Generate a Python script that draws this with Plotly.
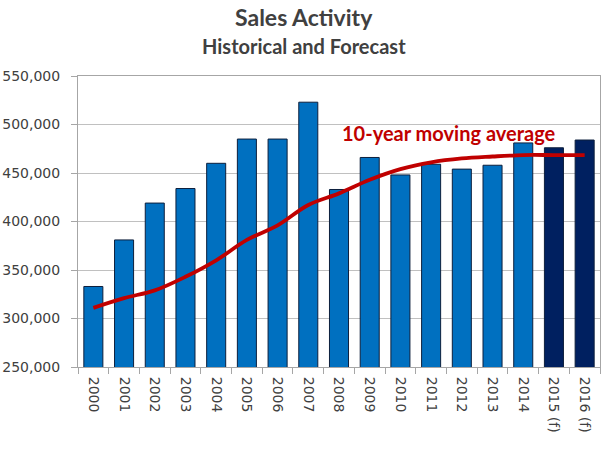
import plotly.graph_objects as go

# Sales activity, historical and forecast
years = ['2000', '2001', '2002', '2003', '2004', '2005', '2006', '2007', '2008',
         '2009', '2010', '2011', '2012', '2013', '2014', '2015 (f)', '2016 (f)']
sales = [333000, 381000, 419000, 434000, 460000, 485000, 485000, 523000, 433000,
         466000, 448000, 459000, 454000, 458000, 481000, 476000, 484000]
moving_avg = [311000, 321000, 329000, 343000, 360000, 381000, 396000, 417000, 429000,
              443000, 454000, 461000, 465000, 467000, 468500, 468500, 468500]
y_ticks = [250000, 300000, 350000, 400000, 450000, 500000, 550000]

bar_colors = ['#002060' if '(f)' in y else '#0070C0' for y in years]

fig = go.Figure()

fig.add_trace(go.Bar(
    x=years, y=sales,
    marker=dict(color=bar_colors, line=dict(color='#0D1F3C', width=1)),
    showlegend=False
))

fig.add_trace(go.Scatter(
    x=years, y=moving_avg,
    mode='lines',
    line=dict(color='#C00000', width=3.8, shape='spline'),
    showlegend=False
))

# titles as annotations so they sit exactly where the reference has them
fig.add_annotation(
    text="<b>Sales Activity</b>",
    xref="paper", yref="paper", x=(304 - 78) / 522, y=1 + (76 - 17) / 291,
    showarrow=False, xanchor='center', yanchor='middle',
    font=dict(family="Lato", size=23, color="#404040")
)
fig.add_annotation(
    text="<b>Historical and Forecast</b>",
    xref="paper", yref="paper", x=(304 - 78) / 522, y=1 + (76 - 46) / 291,
    showarrow=False, xanchor='center', yanchor='middle',
    font=dict(family="Lato", size=20, color="#404040")
)

fig.add_annotation(
    text="<b>10-year moving average</b>",
    xref="paper", yref="paper",
    x=(449 - 78) / 522, y=(367 - 133) / 291,
    showarrow=False, xanchor='center', yanchor='middle',
    font=dict(family="Lato", size=20, color="#C00000")
)

fig.update_layout(
    font=dict(family="DejaVu Sans", size=14, color="#404040"),
    width=608, height=451,
    margin=dict(l=78, r=8, t=76, b=84),
    plot_bgcolor='white',
    paper_bgcolor='white',
    bargap=0.38,
    xaxis=dict(
        type='category',
        automargin=False,
        tickangle=90,
        tickson='boundaries',
        ticks='outside', ticklen=6, tickcolor='#A6A6A6',
        ticklabelstandoff=6,
        showline=True, linecolor='#A6A6A6', linewidth=1,
        mirror=True,
        showgrid=False,
        tickfont=dict(family="DejaVu Sans", size=14, color="#404040")
    ),
    yaxis=dict(
        automargin=False,
        range=[250000, 550000],
        tickvals=y_ticks,
        tickformat=',',
        ticks='outside', ticklen=6, tickcolor='#A6A6A6',
        ticklabelstandoff=8,
        showline=True, linecolor='#A6A6A6', linewidth=1,
        mirror=True,
        showgrid=True, gridcolor='#C0C0C0', gridwidth=1,
        tickfont=dict(family="DejaVu Sans", size=14, color="#404040")
    )
)

# drop the default page margin so the figure starts at the window corner
fig.write_html("out.html", config={'displayModeBar': False},
               post_script="document.body.style.margin='0';")
